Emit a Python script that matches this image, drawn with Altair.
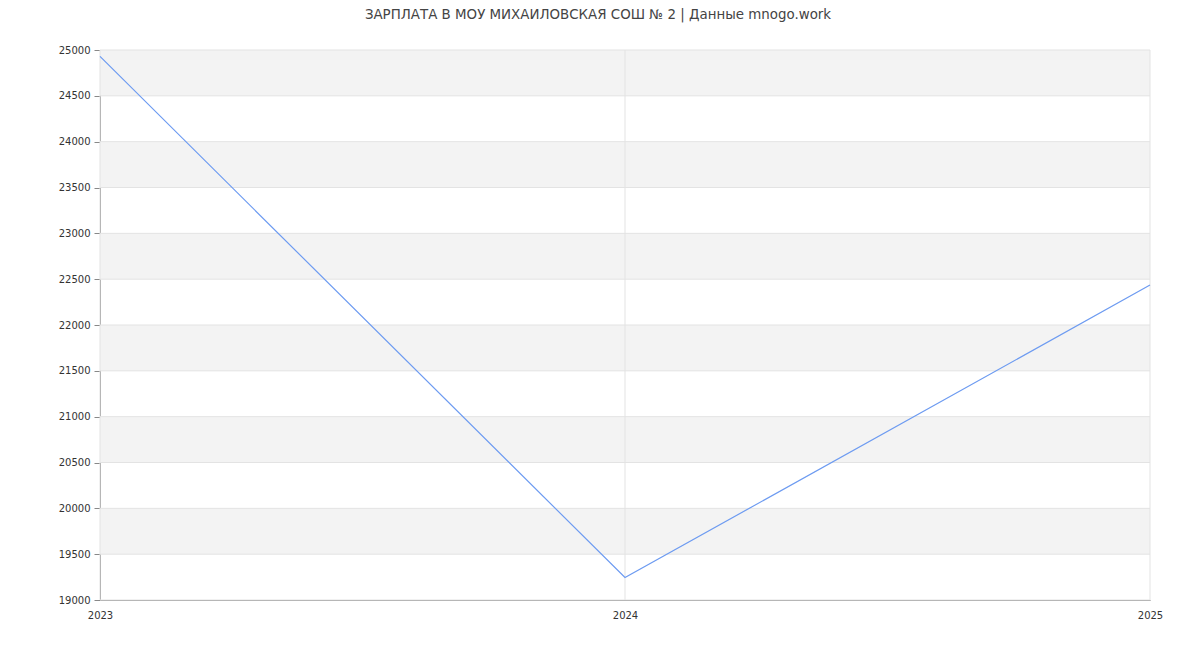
import altair as alt
import pandas as pd

years = [2023, 2024, 2025]
salaries = [24930, 19245, 22436]
band_lo = [24500, 23500, 22500, 21500, 20500, 19500]
band_hi = [25000, 24000, 23000, 22000, 21000, 20000]
y_ticks = list(range(19000, 25001, 500))

df = pd.DataFrame({"year": years, "salary": salaries})
bands = pd.DataFrame({"lo": band_lo, "hi": band_hi})
xgrid = pd.DataFrame({"year": years})
ygrid = pd.DataFrame({"v": y_ticks})

xscale = alt.Scale(type="point", padding=0, domain=years)
yscale = alt.Scale(domain=[19000, 25000], nice=False, zero=False)

xaxis = alt.Axis(labelAngle=0, labelAlign="center", labelBaseline="top",
                 ticks=False, labelPadding=10,
                 labelOverlap=False, grid=False, domainColor="#888",
                 labelColor="#333", labelFontSize=10, labelFont="DejaVu Sans")
yaxis = alt.Axis(values=y_ticks, format="d",
                 tickSize=6, tickColor="#888", grid=False, domainColor="#888",
                 labelColor="#333", labelFontSize=10, labelFont="DejaVu Sans",
                 labelPadding=4, labelFlush=False, labelOverlap=False)

band_layer = alt.Chart(bands).mark_rect(color="#f3f3f3").encode(
    x=alt.value(0), x2=alt.value(1050),
    y=alt.Y("lo:Q", scale=yscale, title=None, axis=yaxis), y2="hi:Q",
)

vrules = alt.Chart(xgrid).mark_rule(color="#e3e3e3", strokeWidth=1).encode(
    x=alt.X("year:O", scale=xscale, title=None, axis=xaxis),
    y=alt.value(0), y2=alt.value(550),
)

hrules = alt.Chart(ygrid).mark_rule(color="#e3e3e3", strokeWidth=1).encode(
    y=alt.Y("v:Q", scale=yscale, title=None, axis=yaxis),
    x=alt.value(0), x2=alt.value(1050),
)

line = alt.Chart(df).mark_line(color="#6d9bf1", strokeWidth=1.2).encode(
    x=alt.X("year:O", scale=xscale, title=None, axis=xaxis),
    y=alt.Y("salary:Q", scale=yscale, title=None, axis=yaxis),
)

chart = alt.layer(band_layer, vrules, hrules, line).properties(
    width=1050, height=550,
    padding={"left": 92, "top": 42, "right": 40, "bottom": 30},
    autosize=alt.AutoSizeParams(type="none"),
    title=alt.TitleParams(
        "ЗАРПЛАТА В МОУ МИХАЙЛОВСКАЯ СОШ № 2 | Данные mnogo.work",
        fontSize=13.4, fontWeight="normal", color="#444", font="DejaVu Sans",
        anchor="middle", dx=-27, offset=24,
    ),
).configure_view(stroke=None)

chart.save("out.html", embed_options={"renderer": "svg", "actions": False})
